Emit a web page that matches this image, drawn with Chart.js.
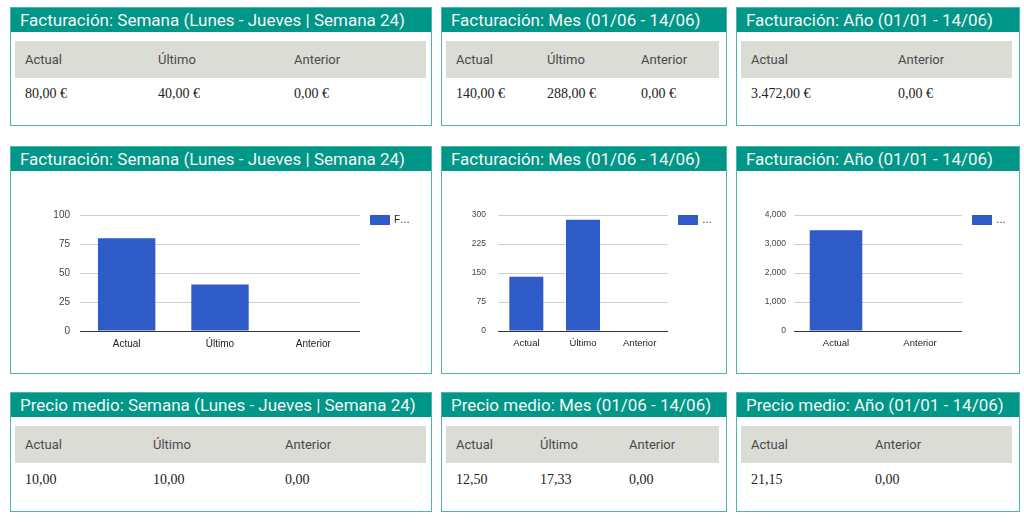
<!DOCTYPE html>
<html>
<head>
<meta charset="utf-8">
<script src="https://cdn.jsdelivr.net/npm/chart.js"></script>
<style>
  body { margin: 0; width: 1024px; height: 522px; background: #fff; position: relative; overflow: hidden; font-family: Roboto, sans-serif; }
  .panel { position: absolute; border: 1px solid #4db6ac; box-sizing: border-box; background: #fff; }
  .hd { position: absolute; left: 0; right: 0; top: 0; height: 24px; background: #009688; color: #f5f5f5; font-size: 17px; line-height: 25px; padding-left: 9px; white-space: nowrap; }
  table { position: absolute; left: 4px; top: 33px; border-collapse: collapse; table-layout: fixed; }
  th { background: #dcdcd6; color: #4a4a4a; font: 13px Roboto, sans-serif; text-align: left; padding: 0 0 0 10px; height: 37px; }
  td { font: 14px "Liberation Serif", serif; color: #222; padding: 0 0 0 10px; height: 33px; }
  canvas { position: absolute; left: 0; top: 24px; }
</style>
</head>
<body>
<script>
// Datos
const cats3 = ["Actual", "Último", "Anterior"];
const cats2 = ["Actual", "Anterior"];

const factSemana = [80, 40, 0];
const factMes = [140, 288, 0];
const factAno = [3472, 0];

const ticksSemana = [0, 25, 50, 75, 100];
const ticksMes = [0, 75, 150, 225, 300];
const ticksAno = [0, 1000, 2000, 3000, 4000];

const factSemanaTxt = ["80,00 €", "40,00 €", "0,00 €"];
const factMesTxt = ["140,00 €", "288,00 €", "0,00 €"];
const factAnoTxt = ["3.472,00 €", "0,00 €"];

const precioSemanaTxt = ["10,00", "10,00", "0,00"];
const precioMesTxt = ["12,50", "17,33", "0,00"];
const precioAnoTxt = ["21,15", "0,00"];

const BAR_COLOR = "#2e5bc7";

// Crea un panel con cabecera
function makePanel(x, y, w, h, title) {
  const p = document.createElement("div");
  p.className = "panel";
  p.style.left = x + "px";
  p.style.top = y + "px";
  p.style.width = w + "px";
  p.style.height = h + "px";
  const hd = document.createElement("div");
  hd.className = "hd";
  hd.textContent = title;
  p.appendChild(hd);
  document.body.appendChild(p);
  return p;
}

// Tabla de valores
function makeTable(panel, width, cols, heads, values, dataH) {
  const t = document.createElement("table");
  t.style.width = width + "px";
  let html = "<colgroup>" + cols.map((c) => `<col style="width:${c}px">`).join("") + "<col></colgroup>";
  html += "<tr>" + heads.map((h) => `<th>${h}</th>`).join("") + "</tr>";
  html += "<tr>" + values.map((v) => `<td style="height:${dataH}px">${v}</td>`).join("") + "</tr>";
  t.innerHTML = html;
  panel.appendChild(t);
}

// Leyenda truncada (como en el original)
const legendBox = {
  id: "legendBox",
  afterDraw(chart, args, o) {
    const { ctx, chartArea } = chart;
    const x = chartArea.right + 10;
    ctx.save();
    ctx.fillStyle = BAR_COLOR;
    ctx.fillRect(x, chartArea.top, 20, 10);
    ctx.fillStyle = "#222";
    ctx.font = o.font;
    ctx.textBaseline = "middle";
    ctx.fillText(o.text, x + 24, chartArea.top + 5);
    ctx.restore();
  },
};

// Gráfico de barras
function makeChart(panel, w, labels, values, ticks, o) {
  const c = document.createElement("canvas");
  c.width = w;
  c.height = 202;
  panel.appendChild(c);
  new Chart(c, {
    type: "bar",
    data: {
      labels: labels,
      datasets: [{ label: "Facturación", data: values, backgroundColor: BAR_COLOR, categoryPercentage: 1, barPercentage: o.bar }],
    },
    options: {
      responsive: false,
      animation: false,
      devicePixelRatio: 1,
      layout: { padding: { top: 44, right: o.right, left: 0, bottom: 0 } },
      plugins: {
        legend: { display: false },
        tooltip: { enabled: false },
        legendBox: { text: o.legend, font: "10px 'Liberation Sans', Arial" },
      },
      scales: {
        x: {
          grid: { display: false, drawTicks: false },
          border: { display: false },
          ticks: { color: "#222", padding: 7, font: { family: "'Liberation Sans', Arial", size: o.catSize } },
          afterFit: (s) => { s.height = 42; },
        },
        y: {
          min: ticks[0],
          max: ticks[ticks.length - 1],
          ticks: {
            stepSize: ticks[1] - ticks[0],
            color: "#444",
            padding: o.tickPad,
            font: { family: "'Liberation Sans', Arial", size: o.tickSize },
            callback: (v) => v.toLocaleString("en-US"),
          },
          grid: { drawTicks: false, color: (ctx) => (ctx.tick && ctx.tick.value === 0 ? "#333" : "#d0d0d0") },
          border: { display: false },
          afterFit: (s) => { s.width = o.left; },
        },
      },
    },
    plugins: [legendBox],
  });
}

// Fila 1: facturación (tablas)
let p = makePanel(10, 7, 422, 119, "Facturación: Semana (Lunes - Jueves | Semana 24)");
makeTable(p, 411, [133, 136], cats3, factSemanaTxt, 32);
p = makePanel(441, 7, 286, 119, "Facturación: Mes (01/06 - 14/06)");
makeTable(p, 273, [91, 94], cats3, factMesTxt, 32);
p = makePanel(736, 7, 284, 119, "Facturación: Año (01/01 - 14/06)");
makeTable(p, 271, [147], cats2, factAnoTxt, 32);

// Fila 2: gráficos
p = makePanel(10, 146, 422, 228, "Facturación: Semana (Lunes - Jueves | Semana 24)");
makeChart(p, 420, cats3, factSemana, ticksSemana, { left: 69, right: 71, bar: 0.615, tickSize: 10, catSize: 10, tickPad: 10, legend: "F…" });
p = makePanel(441, 146, 286, 228, "Facturación: Mes (01/06 - 14/06)");
makeChart(p, 284, cats3, factMes, ticksMes, { left: 56, right: 58, bar: 0.6, tickSize: 8.5, catSize: 9.5, tickPad: 12, legend: "…" });
p = makePanel(736, 146, 284, 228, "Facturación: Año (01/01 - 14/06)");
makeChart(p, 282, cats2, factAno, ticksAno, { left: 57, right: 57, bar: 0.625, tickSize: 8.5, catSize: 9.5, tickPad: 8, legend: "…" });

// Fila 3: precio medio (tablas)
p = makePanel(10, 392, 422, 120, "Precio medio: Semana (Lunes - Jueves | Semana 24)");
makeTable(p, 411, [128, 132], cats3, precioSemanaTxt, 34);
p = makePanel(441, 392, 286, 120, "Precio medio: Mes (01/06 - 14/06)");
makeTable(p, 273, [84, 89], cats3, precioMesTxt, 34);
p = makePanel(736, 392, 284, 120, "Precio medio: Año (01/01 - 14/06)");
makeTable(p, 271, [124], cats2, precioAnoTxt, 34);
</script>
</body>
</html>
